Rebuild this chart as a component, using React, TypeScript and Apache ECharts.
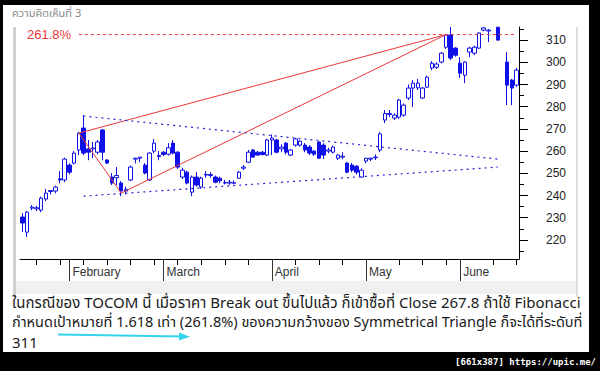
import React, { useEffect, useRef } from 'react';
import * as echarts from 'echarts';

// ---------- data ----------
const titleText = 'ความคิดเห็นที่ 3';
const noteLines = [
  'ในกรณีของ TOCOM นี้ เมื่อราคา Break out ขึ้นไปแล้ว ก็เข้าซื้อที่ Close 267.8 ถ้าใช้ Fibonacci',
  'กำหนดเป้าหมายที่ 1.618 เท่า (261.8%) ของความกว้างของ Symmetrical Triangle ก็จะได้ที่ระดับที่',
  '311',
];
const watermark = '[661x387] https://upic.me/';
const fibLabel = '261.8%';

const monthIdx = [10, 30, 53, 73, 93];
const monthNames = ['February', 'March', 'April', 'May', 'June'];
const weekTicks = [3, 8, 13, 18, 23, 28, 33, 38, 43, 48, 58, 63, 68, 80, 85, 90, 100, 105];
const yLabels = [220, 230, 240, 250, 260, 270, 280, 290, 300, 310];
const yMinor = [215, 225, 235, 245, 255, 265, 275, 285, 295, 305, 315];

// [open, close, low, high]; null = no trading day drawn
const candles: (number[] | null)[] = [
  [230.3, 227.6, 223.5, 232.1], [223.5, 232.5, 221.3, 233.0], [234.3, 234.8, 233.4, 235.7], [234.0, 234.5, 233.0, 235.3],
  [233.4, 238.8, 232.5, 239.5], [238.4, 241.1, 237.5, 243.0], [241.8, 242.2, 240.5, 242.4], [242.0, 243.8, 241.0, 244.5],
  [247.5, 247.0, 245.5, 251.0], [247.0, 256.4, 246.0, 257.0], [253.7, 250.5, 249.5, 254.5], [254.6, 259.1, 254.0, 260.0],
  [260.5, 268.1, 258.2, 268.5], [270.4, 259.1, 258.2, 276.2], [261.0, 259.5, 255.9, 265.0], [261.0, 261.4, 256.8, 264.1],
  [259.5, 264.1, 258.5, 265.0], [269.5, 259.5, 255.9, 270.0], [256.0, 254.6, 254.2, 256.4], [248.3, 245.6, 244.7, 250.1],
  [248.0, 249.0, 244.7, 252.8], [245.6, 242.0, 239.7, 246.5], [242.0, 242.8, 240.5, 244.0], [247.0, 252.8, 246.5, 253.5],
  [256.4, 256.8, 254.5, 257.0], [256.8, 257.3, 255.0, 257.3], [253.7, 250.1, 249.5, 254.6], [247.0, 259.1, 246.5, 259.5],
  [260.0, 263.6, 259.0, 265.5], [257.5, 258.0, 255.9, 260.0], [259.5, 258.5, 257.8, 260.0], [258.6, 261.5, 258.0, 263.6],
  [263.6, 259.1, 258.5, 265.0], [259.5, 252.8, 252.0, 260.0], [248.3, 251.4, 247.5, 252.5], [250.5, 245.6, 245.0, 251.2],
  [241.5, 248.3, 239.7, 249.0], [248.3, 244.7, 244.0, 250.5], [243.8, 247.8, 243.0, 248.5], [249.5, 249.2, 248.0, 251.0],
  [249.0, 249.5, 248.0, 250.5], [248.3, 246.0, 245.5, 249.0], [247.8, 246.6, 245.5, 248.5], [245.8, 245.6, 245.0, 247.0],
  [245.6, 246.0, 244.8, 247.0], [245.5, 245.8, 245.0, 246.8], [247.8, 250.5, 247.5, 251.0], [252.3, 252.8, 251.4, 253.7],
  [255.0, 259.5, 254.6, 260.5], [260.5, 257.3, 257.0, 261.0], [259.5, 258.2, 258.0, 260.0], [259.5, 258.5, 258.0, 260.0],
  [258.2, 265.0, 257.8, 265.5], [265.0, 265.9, 258.2, 267.5], [265.0, 259.5, 259.0, 265.5], [261.0, 261.8, 259.5, 263.0],
  [263.6, 259.5, 258.5, 264.0], [258.2, 260.5, 257.8, 261.0], [262.7, 265.5, 262.0, 266.0], [262.7, 264.5, 262.0, 265.0],
  [262.7, 260.5, 259.5, 263.6], [261.8, 259.1, 258.2, 262.7], [260.0, 258.6, 257.8, 260.5], [264.1, 256.8, 256.4, 264.5],
  [262.7, 258.2, 256.4, 263.6], [260.0, 260.5, 259.0, 261.5], [259.5, 261.8, 259.0, 262.5], [256.8, 258.2, 256.0, 258.6],
  [257.3, 257.7, 256.4, 259.5], [254.6, 250.5, 250.0, 255.0], [253.7, 251.4, 250.5, 254.6], [253.2, 250.5, 249.5, 253.7],
  [248.3, 251.4, 248.3, 252.3], [255.5, 256.8, 254.5, 257.0], [256.4, 256.8, 255.5, 257.0], [257.0, 257.3, 256.0, 258.5],
  [260.5, 267.8, 259.5, 268.5], [274.0, 276.9, 272.6, 278.5], [276.5, 276.9, 275.3, 278.5], [274.9, 276.2, 274.0, 277.0],
  [275.3, 283.0, 274.5, 283.5], [276.2, 280.7, 275.5, 281.5], [283.9, 288.4, 283.0, 290.0], [288.4, 290.6, 279.8, 292.0],
  [288.5, 290.6, 287.5, 292.5], [283.9, 288.4, 283.5, 288.8], [288.8, 293.3, 288.4, 294.0], [297.4, 299.6, 296.5, 300.5],
  [297.8, 299.2, 297.0, 300.0], [300.1, 304.1, 299.5, 304.6], [306.8, 312.3, 306.0, 312.7], [312.3, 301.9, 301.0, 315.9],
  [306.4, 303.2, 302.5, 306.8], [299.6, 295.1, 292.9, 302.3], [294.2, 300.1, 290.6, 300.5], [304.6, 306.4, 302.3, 307.0],
  [304.1, 306.8, 303.2, 307.5], [306.4, 313.2, 306.0, 313.5], [314.5, 315.5, 314.0, 315.9], [314.1, 314.5, 309.1, 315.0],
  null, [315.8, 310.0, 309.8, 315.9], null, [300.1, 289.7, 280.7, 304.6],
  [292.0, 288.4, 280.7, 292.5], [289.7, 296.5, 289.0, 297.5],
];
const days = candles.map((_, i) => `D${i + 1}`);

// drawn studies: [day index, price]
const fibLevel = 312.5;
const fibLine = [[12, fibLevel], [105, fibLevel]];
const redUpper = [[12, 268.1], [90, 312.5]];
const redZigzag = [[12, 268.1], [21, 241.1], [90, 312.5]];
const triUpper = [[13, 275.8], [101, 256.4]];
const triLower = [[13, 239.7], [101, 252.8]];

const Y_MIN = 211.4;
const Y_MAX = 315.9;

export default function App() {
  const ref = useRef<HTMLDivElement>(null);
  useEffect(() => {
    if (!ref.current) return;
    const chart = echarts.init(ref.current, null, { renderer: 'svg' });
    const axisFont = 'Arial, "Liberation Sans", sans-serif';
    const textFont = 'Tahoma, "Noto Sans Thai", "Noto Sans", "DejaVu Sans", sans-serif';
    const blue = '#1010e8';
    const red = '#e8383a';
    const ohlc = candles.map((c) => (c ? c : ['-', '-', '-', '-']));

    chart.setOption({
      animation: false,
      backgroundColor: '#000000',
      grid: { left: 20, top: 27, width: 499, height: 232, containLabel: false },
      xAxis: [
        {
          type: 'category', data: days, boundaryGap: true,
          axisLine: { show: true, lineStyle: { color: '#000', width: 1 } },
          axisTick: { show: true, alignWithLabel: true, interval: (i: number) => weekTicks.includes(i), length: 6, lineStyle: { color: '#000' } },
          axisLabel: { show: false }, splitLine: { show: false },
        },
        {
          type: 'category', data: days, boundaryGap: true, position: 'bottom',
          axisLine: { show: false },
          axisTick: { show: true, alignWithLabel: true, interval: (i: number) => monthIdx.includes(i), length: 22, lineStyle: { color: '#333' } },
          axisLabel: {
            show: true, interval: (i: number) => monthIdx.includes(i),
            formatter: (_v: string, i: number) => { const k = monthIdx.indexOf(i); return k >= 0 ? monthNames[k] : ''; },
            align: 'left', margin: 7, fontSize: 12, color: '#333', fontFamily: axisFont, padding: [0, 0, 0, 3],
          },
          splitLine: { show: false },
        },
      ],
      yAxis: [
        {
          type: 'value', position: 'right', min: Y_MIN, max: Y_MAX,
          axisLine: { show: true, lineStyle: { color: '#000' } },
          axisTick: { show: true, customValues: yLabels, length: 9, lineStyle: { color: '#000', width: 1 } },
          axisLabel: { customValues: yLabels, margin: 27, fontSize: 12, color: '#222', fontFamily: axisFont },
          splitLine: { show: false },
        },
        {
          type: 'value', position: 'right', min: Y_MIN, max: Y_MAX,
          axisLine: { show: false },
          axisTick: { show: true, customValues: yMinor, length: 5, lineStyle: { color: '#000', width: 1 } },
          axisLabel: { show: false },
          splitLine: { show: false },
        },
      ],
      graphic: [
        { type: 'rect', z: -20, shape: { x: 3, y: 5, width: 586, height: 347 }, style: { fill: '#ffffff' } },
        { type: 'rect', z: -19, shape: { x: 16, y: 281, width: 560, height: 13 }, style: { fill: '#f0f0f0' } },
        { type: 'rect', z: -19, shape: { x: 13, y: 27, width: 3, height: 270 }, style: { fill: '#cfcfcf' } },
        { type: 'rect', z: -19, shape: { x: 576, y: 27, width: 2, height: 270 }, style: { fill: '#dedede' } },
        { type: 'text', z: 5, x: 12, y: 13, style: { text: titleText, fill: '#8a8a8a', fontSize: 11, fontFamily: textFont, verticalAlign: 'middle' } },
        { type: 'text', z: 5, x: 27, y: 34, style: { text: fibLabel, fill: red, fontSize: 13, fontFamily: axisFont, verticalAlign: 'middle' } },
        { type: 'text', z: 5, x: 12, y: 303, style: { text: noteLines[0], fill: '#1a1a1a', fontSize: 15, lineHeight: 17, fontFamily: textFont, verticalAlign: 'middle' } },
        { type: 'text', z: 5, x: 12, y: 323, style: { text: noteLines[1], fill: '#1a1a1a', fontSize: 14.5, lineHeight: 17, fontFamily: textFont, verticalAlign: 'middle' } },
        { type: 'text', z: 5, x: 12, y: 343, style: { text: noteLines[2], fill: '#1a1a1a', fontSize: 15, lineHeight: 17, fontFamily: textFont, verticalAlign: 'middle' } },
        { type: 'polyline', z: 5, shape: { points: [[58, 334.5], [181, 336.5]] }, style: { stroke: '#35d3ea', lineWidth: 2, fill: 'none' } },
        { type: 'polygon', z: 5, shape: { points: [[179, 332.5], [190, 336.8], [179, 340.5]] }, style: { fill: '#35d3ea' } },
        { type: 'text', z: 5, x: 596, y: 362, style: { text: watermark, fill: '#ffffff', fontSize: 9, fontWeight: 'bold', fontFamily: '"DejaVu Sans Mono", monospace', align: 'right', verticalAlign: 'middle' } },
      ],
      series: [
        {
          type: 'candlestick', xAxisIndex: 0, yAxisIndex: 0, data: ohlc, barWidth: 4, z: 3,
          itemStyle: { color: '#ffffff', color0: blue, borderColor: blue, borderColor0: blue, borderWidth: 1 },
        },
        { type: 'line', data: fibLine, symbol: 'none', z: 4, lineStyle: { color: red, width: 1, type: [3, 3] } },
        { type: 'line', data: redUpper, symbol: 'none', z: 4, lineStyle: { color: red, width: 1 } },
        { type: 'line', data: redZigzag, symbol: 'none', z: 4, lineStyle: { color: red, width: 1 } },
        { type: 'line', data: triUpper, symbol: 'none', z: 4, lineStyle: { color: '#2525d0', width: 1.2, type: [2, 4] } },
        { type: 'line', data: triLower, symbol: 'none', z: 4, lineStyle: { color: '#2525d0', width: 1.2, type: [2, 4] } },
      ],
    });
    return () => chart.dispose();
  }, []);

  return <div ref={ref} style={{ position: 'fixed', left: 0, top: 0, width: 600, height: 371 }} />;
}
